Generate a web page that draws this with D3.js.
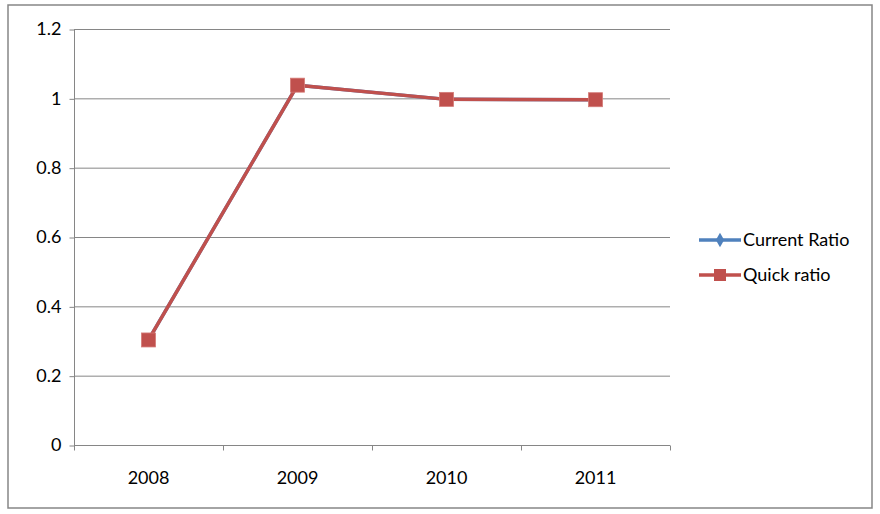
<!DOCTYPE html>
<html><head><meta charset="utf-8">
<script src="https://cdn.jsdelivr.net/npm/d3@7"></script>
<style>body{margin:0;background:#fff}svg{display:block}text{font-family:Lato,"Open Sans",sans-serif;fill:#000}</style>
</head><body><svg id="c" width="880" height="514"></svg>
<script>
const categories = ["2008","2009","2010","2011"];
const currentRatio = [0.303, 1.038, 0.997, 0.996];
const quickRatio = [0.303, 1.038, 0.997, 0.996];
const yTicks = [0, 0.2, 0.4, 0.6, 0.8, 1, 1.2];
const seriesNames = ["Current Ratio", "Quick ratio"];
const colors = ["#4F81BD", "#C0504D"];

const svg = d3.select("#c");
svg.append("rect").attr("x",8).attr("y",5).attr("width",864).attr("height",503)
  .attr("fill","#fff").attr("stroke","#868686").attr("stroke-width",1.5);

const L=74, R=670, T=29, B=445;
const x = d3.scaleBand().domain(categories).range([L,R]).paddingInner(0).paddingOuter(0);
const y = d3.scaleLinear().domain([0,1.2]).range([B,T]);

// gridlines
svg.append("g").selectAll("line").data(yTicks.filter(d=>d>0)).join("line")
  .attr("x1",L).attr("x2",R).attr("y1",d=>y(d)+0.5).attr("y2",d=>y(d)+0.5)
  .attr("stroke","#868686").attr("stroke-width",1);

// y axis
const ya = svg.append("g").attr("transform",`translate(${L+0.5},0)`)
  .call(d3.axisLeft(y).tickValues(yTicks).tickSize(5).tickPadding(8).tickFormat(d=>String(d)));
ya.selectAll("path,line").attr("stroke","#868686");
ya.select(".domain").attr("d",`M0,${T}V${B}`);
ya.selectAll("text").style("font-size","18px").style("font-family","Lato");
ya.selectAll(".tick line").attr("transform","translate(0,0.5)");

// x axis
const xa = svg.append("g").attr("transform",`translate(0,${B+0.5})`)
  .call(d3.axisBottom(x).tickSize(0).tickPadding(26));
xa.select(".domain").attr("d",`M${L},0H${R}`).attr("stroke","#868686");
xa.selectAll("text").style("font-size","18px").style("font-family","Lato");
const bounds = categories.map(c=>x(c)).concat([R]);
xa.selectAll(".bt").data(bounds).join("line").attr("class","bt")
  .attr("x1",d=>d+0.5).attr("x2",d=>d+0.5).attr("y1",0).attr("y2",5).attr("stroke","#868686");

const line = d3.line().x((d,i)=>x(categories[i])+x.bandwidth()/2).y(d=>y(d));
const series = [currentRatio, quickRatio];
series.forEach((s,k)=>{
  svg.append("path").datum(s).attr("d",line).attr("fill","none")
    .attr("stroke",colors[k]).attr("stroke-width",3.5).attr("stroke-linejoin","round");
  const g = svg.append("g");
  s.forEach((v,i)=>{
    const cx = x(categories[i])+x.bandwidth()/2, cy = y(v);
    if(k===0){
      g.append("path").attr("d",d3.symbol(d3.symbolDiamond,45)()).attr("transform",`translate(${cx},${cy})`)
        .attr("fill",colors[k]);
    } else {
      g.append("rect").attr("x",cx-7).attr("y",cy-7).attr("width",14).attr("height",14)
        .attr("fill",colors[k]).attr("stroke","#D47A77").attr("stroke-width",0.8);
    }
  });
});

// legend
const lg = svg.append("g");
seriesNames.forEach((n,k)=>{
  const cy = 240 + k*35;
  lg.append("line").attr("x1",699).attr("x2",741).attr("y1",cy).attr("y2",cy)
    .attr("stroke",colors[k]).attr("stroke-width",3.5);
  if(k===0){
    lg.append("path").attr("d",d3.symbol(d3.symbolDiamond,60)()).attr("transform",`translate(720,${cy})`).attr("fill",colors[k]);
  } else {
    lg.append("rect").attr("x",714).attr("y",cy-6).attr("width",12).attr("height",12).attr("fill",colors[k]);
  }
  lg.append("text").attr("x",743).attr("y",cy).attr("dy","0.35em").style("font-size","18px").text(n);
});
</script></body></html>
